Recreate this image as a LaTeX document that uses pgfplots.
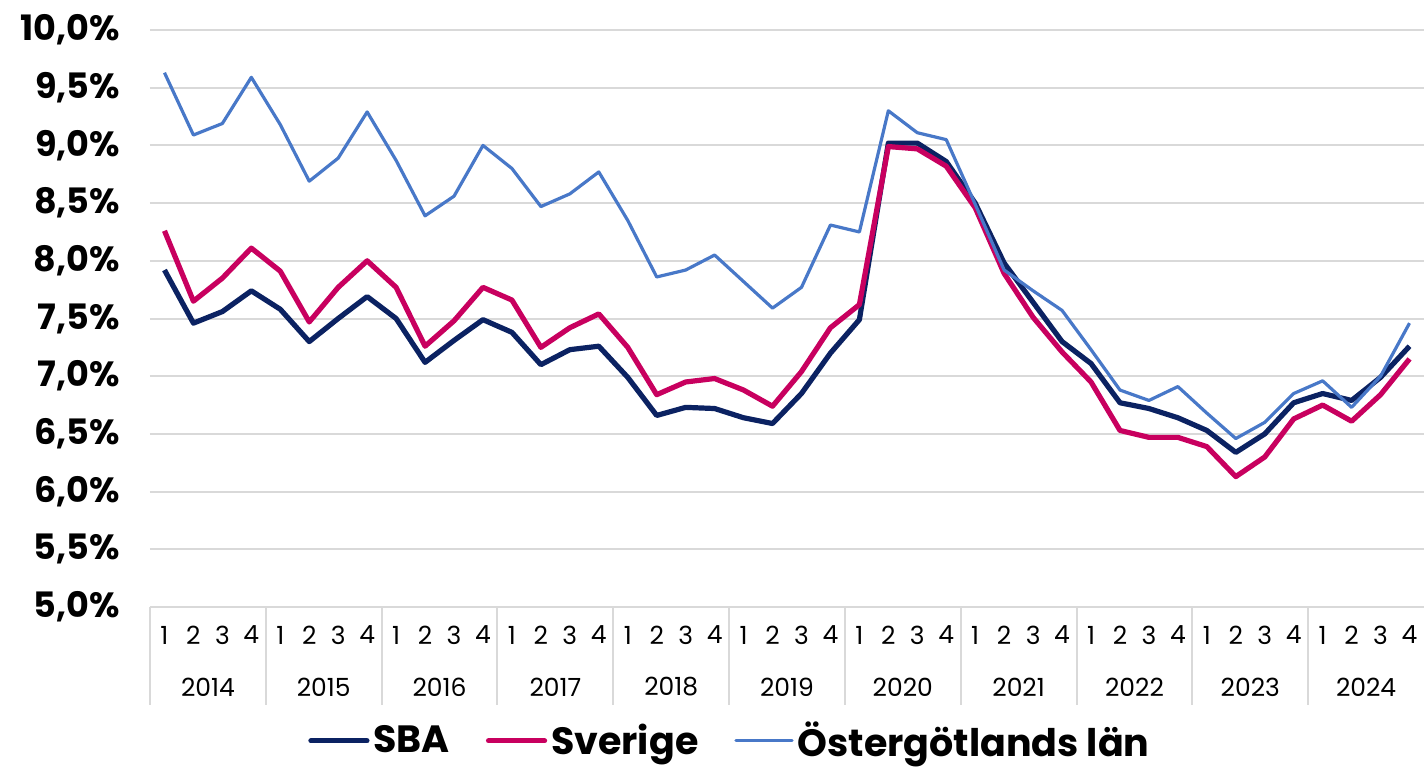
\documentclass[border=0pt]{standalone}
\usepackage{pgfplots}
\usepackage{pgfplotstable}
\pgfplotsset{compat=1.18}
\usepackage{fontspec}
\setmainfont{Poppins}
\definecolor{sba}{HTML}{0B2262}
\definecolor{sve}{HTML}{C8005F}
\definecolor{ost}{HTML}{4878C8}
\definecolor{gridc}{HTML}{D9D9D9}
\pgfplotstableread{
i sba sve ost
0 7.92 8.26 9.63
1 7.46 7.65 9.09
2 7.56 7.85 9.19
3 7.74 8.11 9.59
4 7.58 7.91 9.18
5 7.30 7.47 8.69
6 7.50 7.77 8.89
7 7.69 8.00 9.29
8 7.50 7.77 8.87
9 7.12 7.26 8.39
10 7.31 7.48 8.56
11 7.49 7.77 9.00
12 7.38 7.66 8.80
13 7.10 7.25 8.47
14 7.23 7.42 8.58
15 7.26 7.54 8.77
16 6.99 7.25 8.35
17 6.66 6.84 7.86
18 6.73 6.95 7.92
19 6.72 6.98 8.05
20 6.64 6.88 7.82
21 6.59 6.74 7.59
22 6.85 7.04 7.77
23 7.20 7.42 8.31
24 7.49 7.62 8.25
25 9.02 8.99 9.30
26 9.02 8.97 9.11
27 8.86 8.82 9.05
28 8.50 8.46 8.49
29 7.98 7.89 7.92
30 7.64 7.51 7.74
31 7.30 7.21 7.57
32 7.11 6.95 7.23
33 6.77 6.53 6.88
34 6.72 6.47 6.79
35 6.64 6.47 6.91
36 6.53 6.39 6.68
37 6.34 6.13 6.46
38 6.50 6.30 6.60
39 6.77 6.63 6.85
40 6.85 6.75 6.96
41 6.79 6.61 6.73
42 6.99 6.84 7.00
43 7.26 7.15 7.46
}\data
\begin{document}
\begin{tikzpicture}
\begin{axis}[
  scale only axis,
  width=637pt, height=288.5pt,
  xmin=-0.5, xmax=43.5,
  ymin=5, ymax=10,
  ytick={5,5.5,...,10},
  xtick={0,...,43},
  xticklabels={1,2,3,4,1,2,3,4,1,2,3,4,1,2,3,4,1,2,3,4,1,2,3,4,1,2,3,4,1,2,3,4,1,2,3,4,1,2,3,4,1,2,3,4},
  xticklabel style={font=\fontsize{12.5}{12.5}\selectfont, yshift=-6pt},
  yticklabel style={font=\bfseries\fontsize{17.5}{17.5}\selectfont, xshift=-11.5pt},
  /pgf/number format/assume math mode=true,
  yticklabel={\pgfmathprintnumber[fixed,fixed zerofill,precision=1,use comma]{\tick}\%},
  major tick length=0pt,
  ymajorgrids,
  grid style={gridc, line width=1pt},
  axis line style={draw=none},
  clip=false,
  legend style={at={(0.456,-0.232)}, anchor=center, draw=none, legend columns=3,
    font=\bfseries\fontsize{19}{19}\selectfont,
    /tikz/every even column/.append style={column sep=16pt}},
  legend cell align=left,
  legend image code/.code={\draw[#1, line cap=round] (0pt,0pt) -- (28pt,0pt);},
]
\addplot[sba, line width=2.6pt, line join=round] table[x=i,y=sba]{\data};
\addlegendentry{SBA}
\addplot[sve, line width=2.6pt, line join=round] table[x=i,y=sve]{\data};
\addlegendentry{Sverige}
\addplot[ost, line width=1.6pt, line join=round] table[x=i,y=ost]{\data};
\addlegendentry{Östergötlands län}
\draw[gridc, line width=1pt] (axis cs:-0.5,5) -- (axis cs:43.5,5);
\pgfplotsinvokeforeach{0,...,10}{
  \draw[gridc, line width=1pt] (axis cs:{4*#1-0.5},5) -- ([yshift=-49pt]axis cs:{4*#1-0.5},5);
}
\node[font=\fontsize{12.5}{12.5}\selectfont, yshift=-40pt] at (axis cs:1.5,5) {2014};
\node[font=\fontsize{12.5}{12.5}\selectfont, yshift=-40pt] at (axis cs:5.5,5) {2015};
\node[font=\fontsize{12.5}{12.5}\selectfont, yshift=-40pt] at (axis cs:9.5,5) {2016};
\node[font=\fontsize{12.5}{12.5}\selectfont, yshift=-40pt] at (axis cs:13.5,5) {2017};
\node[font=\fontsize{12.5}{12.5}\selectfont, yshift=-40pt] at (axis cs:17.5,5) {2018};
\node[font=\fontsize{12.5}{12.5}\selectfont, yshift=-40pt] at (axis cs:21.5,5) {2019};
\node[font=\fontsize{12.5}{12.5}\selectfont, yshift=-40pt] at (axis cs:25.5,5) {2020};
\node[font=\fontsize{12.5}{12.5}\selectfont, yshift=-40pt] at (axis cs:29.5,5) {2021};
\node[font=\fontsize{12.5}{12.5}\selectfont, yshift=-40pt] at (axis cs:33.5,5) {2022};
\node[font=\fontsize{12.5}{12.5}\selectfont, yshift=-40pt] at (axis cs:37.5,5) {2023};
\node[font=\fontsize{12.5}{12.5}\selectfont, yshift=-40pt] at (axis cs:41.5,5) {2024};
\end{axis}
\pgfresetboundingbox
\path[use as bounding box] (-75pt,-80.5pt) rectangle (637pt,303.5pt);
\end{tikzpicture}
\end{document}
